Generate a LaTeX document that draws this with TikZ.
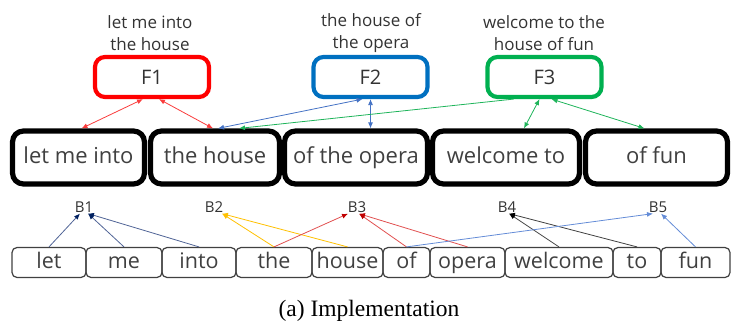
\documentclass[tikz,border=0pt]{standalone}
\usepackage{fontspec}
\setmainfont{Open Sans}
\newfontfamily\capfont{Liberation Serif}
\usetikzlibrary{arrows.meta}

\definecolor{fonered}{RGB}{255,0,0}
\definecolor{ftwoblue}{RGB}{0,112,192}
\definecolor{fthreegreen}{RGB}{0,176,80}
\definecolor{linkred}{RGB}{250,60,60}
\definecolor{linkblue}{RGB}{68,114,196}
\definecolor{linkgreen}{RGB}{30,180,90}
\definecolor{boneline}{RGB}{80,100,150}
\definecolor{bonehead}{RGB}{0,32,96}
\definecolor{btwoline}{RGB}{255,192,0}
\definecolor{bthreeline}{RGB}{225,80,80}
\definecolor{bthreehead}{RGB}{192,0,0}
\definecolor{bfourline}{RGB}{64,64,64}
\definecolor{bfiveline}{RGB}{100,140,215}

\tikzset{
  phrase/.style={draw=black, line width=5.2pt, rounded corners=11pt, minimum width=#1,
    minimum height=53pt, inner sep=0pt, text height=15pt, text depth=4pt,
    font=\fontsize{22}{26}\selectfont, text=black!75},
  word/.style={draw=black!75, line width=1.2pt, rounded corners=5pt, minimum width=#1,
    minimum height=30pt, inner sep=0pt, text height=15pt, text depth=4pt,
    font=\fontsize{21.5}{25}\selectfont, text=black!75},
  fnode/.style={draw=#1, line width=4.2pt, rounded corners=10pt, minimum width=114pt,
    minimum height=40pt, inner sep=0pt, font=\fontsize{20}{24}\selectfont, text=black!80},
  toplabel/.style={align=center, font=\fontsize{17}{22}\selectfont, text=black!80, inner sep=0pt},
  blabel/.style={font=\fontsize{15}{18}\selectfont, text=black!80, inner sep=1pt},
  link/.style={draw=#1, line width=0.8pt, {Latex[length=6pt,width=5pt]}-{Latex[length=6pt,width=5pt]}},
  tie/.style={line width=0.8pt, -{Latex[length=6pt,width=5pt,color=#1]}}
}

\begin{document}
\begin{tikzpicture}[x=1pt,y=-1pt]
\useasboundingbox (0,0) rectangle (732,324);

% frames
\node[toplabel] (lab1) at (150,33) {let me into\\the house};
\node[toplabel] (lab2) at (371,33) {the house of\\the opera};
\node[toplabel] (lab3) at (544,33) {welcome to the\\house of fun};
\node[fnode=fonered] (F1) at (152,77) {F1};
\node[fnode=ftwoblue] (F2) at (370.5,77) {F2};
\node[fnode=fthreegreen] (F3) at (544.5,77) {F3};

% phrases
\node[phrase=132pt] (p1) at (78.5,157.5) {let me into};
\node[phrase=129pt] (p2) at (215,157.5) {the house};
\node[phrase=143pt] (p3) at (356,157.5) {of the opera};
\node[phrase=147pt] (p4) at (506,157.5) {welcome to};
\node[phrase=142pt] (p5) at (656.5,157.5) {of fun};

% words
\node[word=74pt] (w1) at (49,262.5) {let};
\node[word=76pt] (w2) at (124,262.5) {me};
\node[word=74pt] (w3) at (199,262.5) {into};
\node[word=76pt] (w4) at (274,262.5) {the};
\node[word=71pt] (w5) at (347.5,262.5) {house};
\node[word=47pt] (w6) at (406.5,262.5) {of};
\node[word=75pt] (w7) at (467.5,262.5) {opera};
\node[word=108pt] (w8) at (559,262.5) {welcome};
\node[word=48pt] (w9) at (637,262.5) {to};
\node[word=69pt] (w10) at (695.5,262.5) {fun};

% blocks
\node[blabel] (B1) at (84,207) {B1};
\node[blabel] (B2) at (214,207) {B2};
\node[blabel] (B3) at (357,207) {B3};
\node[blabel] (B4) at (507,207) {B4};
\node[blabel] (B5) at (658,207) {B5};

% frame links
\draw[link=linkred] ([xshift=-9pt]F1.south) -- ([xshift=3pt]p1.north);
\draw[link=linkred] ([xshift=7pt]F1.south) -- ([xshift=-2pt]p2.north);
\draw[link=linkblue] ([xshift=-8pt]F2.south) -- ([xshift=3pt]p2.north);
\draw[link=linkblue] (F2.south) -- (F2.south |- p3.north);
\draw[draw=linkgreen, line width=0.8pt, -{Latex[length=6pt,width=5pt]}] ([xshift=-31pt]F3.south) -- ([xshift=24pt]p2.north);
\draw[link=linkgreen] ([xshift=-5pt]F3.south) -- ([xshift=18pt]p4.north);
\draw[link=linkgreen] ([xshift=7pt]F3.south) -- ([xshift=-12pt]p5.north);

% block links
\draw[tie=bonehead, boneline] (w1.north) -- ([xshift=-4pt]B1.south);
\draw[tie=bonehead, boneline] (w2.north) -- ([xshift=4pt]B1.south);
\draw[tie=bonehead, boneline] (w3.north) -- ([xshift=4pt]B1.south);
\draw[tie=btwoline, btwoline] (w4.north) -- ([xshift=8pt]B2.south);
\draw[tie=btwoline, btwoline] (w5.north) -- ([xshift=8pt]B2.south);
\draw[tie=bthreehead, bthreeline] (w4.north) -- ([xshift=-9pt]B3.south);
\draw[tie=bthreehead, bthreeline] (w6.north) -- ([xshift=2pt]B3.south);
\draw[tie=bthreehead, bthreeline] (w7.north) -- ([xshift=2pt]B3.south);
\draw[tie=black, bfourline] (w8.north) -- ([xshift=2pt]B4.south);
\draw[tie=black, bfourline] (w9.north) -- ([xshift=2pt]B4.south);
\draw[tie=bfiveline, bfiveline] (w6.north) -- ([xshift=-5pt]B5.south);
\draw[tie=bfiveline, bfiveline] (w10.north) -- ([xshift=3pt]B5.south);

\node[font=\capfont\fontsize{23.5}{28}\selectfont, inner sep=0pt] (cap) at (369,311) {(a) Implementation};
\end{tikzpicture}
\end{document}
